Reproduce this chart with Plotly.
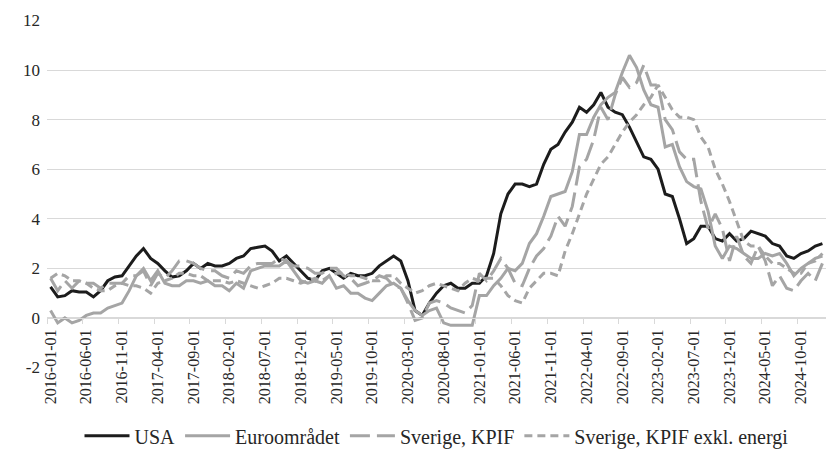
import plotly.graph_objects as go

# Categories: monthly observations Jan 2016 - Jan 2025
months = [f"{y}-{m:02d}-01" for y in range(2016, 2026) for m in range(1, 13)][:109]

tick_labels = ["2016-01-01", "2016-06-01", "2016-11-01", "2017-04-01", "2017-09-01",
               "2018-02-01", "2018-07-01", "2018-12-01", "2019-05-01", "2019-10-01",
               "2020-03-01", "2020-08-01", "2021-01-01", "2021-06-01", "2021-11-01",
               "2022-04-01", "2022-09-01", "2023-02-01", "2023-07-01", "2023-12-01",
               "2024-05-01", "2024-10-01"]

usa = [1.25, 0.85, 0.9, 1.1, 1.05, 1.05, 0.85, 1.1, 1.5, 1.65, 1.7, 2.1,
       2.5, 2.8, 2.4, 2.2, 1.9, 1.65, 1.7, 1.9, 2.2, 2.0, 2.2, 2.1,
       2.1, 2.2, 2.4, 2.5, 2.8, 2.85, 2.9, 2.7, 2.3, 2.5, 2.2, 1.9,
       1.6, 1.5, 1.9, 2.0, 1.8, 1.6, 1.8, 1.7, 1.7, 1.8, 2.1, 2.3,
       2.5, 2.3, 1.5, 0.3, 0.1, 0.6, 1.0, 1.3, 1.4, 1.2, 1.2, 1.4,
       1.4, 1.7, 2.6, 4.2, 5.0, 5.4, 5.4, 5.3, 5.4, 6.2, 6.8, 7.0,
       7.5, 7.9, 8.5, 8.3, 8.6, 9.1, 8.5, 8.3, 8.2, 7.7, 7.1, 6.5,
       6.4, 6.0, 5.0, 4.9, 4.0, 3.0, 3.2, 3.7, 3.7, 3.2, 3.1, 3.4,
       3.1, 3.2, 3.5, 3.4, 3.3, 3.0, 2.9, 2.5, 2.4, 2.6, 2.7, 2.9,
       3.0]

euro = [0.3, -0.2, 0.0, -0.2, -0.1, 0.1, 0.2, 0.2, 0.4, 0.5, 0.6, 1.1,
        1.7, 2.0, 1.5, 1.9, 1.4, 1.3, 1.3, 1.5, 1.5, 1.4, 1.5, 1.3,
        1.3, 1.1, 1.4, 1.2, 1.9, 2.0, 2.1, 2.1, 2.1, 2.3, 1.9, 1.5,
        1.4, 1.5, 1.4, 1.7, 1.2, 1.3, 1.0, 1.0, 0.8, 0.7, 1.0, 1.3,
        1.4, 1.2, 0.7, 0.3, 0.1, 0.3, 0.4, -0.2, -0.3, -0.3, -0.3, -0.3,
        0.9, 0.9, 1.3, 1.6, 2.0, 1.9, 2.2, 3.0, 3.4, 4.1, 4.9, 5.0,
        5.1, 5.9, 7.4, 7.4, 8.1, 8.6, 8.9, 9.1, 9.9, 10.6, 10.1, 9.2,
        8.6, 8.5, 6.9, 7.0, 6.1, 5.5, 5.3, 5.2, 4.3, 2.9, 2.4, 2.9,
        2.8, 2.6, 2.4, 2.4, 2.6, 2.5, 2.6, 2.2, 1.7, 2.0, 2.2, 2.4,
        2.5]

kpif = [1.6, 1.1, 1.5, 1.2, 1.5, 1.4, 1.4, 1.2, 1.4, 1.4, 1.4, 1.7,
        1.7, 1.9, 1.3, 1.8, 1.6, 1.9, 2.3, 2.3, 2.2, 2.0, 1.9, 1.9,
        1.7, 1.6, 1.9, 1.8, 2.1, 2.2, 2.2, 2.2, 2.4, 2.3, 2.1, 2.1,
        2.0, 1.8, 1.8, 2.0, 2.0, 1.7, 1.6, 1.3, 1.4, 1.5, 1.7, 1.6,
        1.3, 1.2, 0.6, -0.1, 0.0, 0.6, 0.7, 0.6, 0.4, 0.3, 0.2, 0.5,
        1.8, 1.5, 1.9, 2.4, 2.0, 1.4, 1.3, 2.0, 2.5, 2.8, 3.3, 4.1,
        3.7, 4.5, 6.1, 6.4, 7.2, 8.5, 8.0, 9.0, 9.7, 9.3, 9.5, 10.2,
        9.4, 9.4, 8.0, 7.6, 6.7, 6.4, 6.4, 4.7, 3.6, 4.2, 3.6, 2.3,
        3.3, 2.5, 2.2, 2.9, 2.3, 1.3, 1.7, 1.2, 1.1, 1.5, 1.8, 1.5,
        2.2]

kpif_xe = [1.6, 1.8, 1.7, 1.5, 1.5, 1.4, 1.2, 1.1, 1.1, 1.3, 1.4, 1.3,
           1.3, 1.2, 1.0, 1.4, 1.5, 1.6, 1.8, 1.8, 1.7, 1.7, 1.5, 1.5,
           1.5, 1.4, 1.5, 1.4, 1.3, 1.2, 1.3, 1.4, 1.6, 1.6, 1.5, 1.4,
           1.5, 1.6, 1.5, 1.7, 1.8, 1.8, 1.7, 1.7, 1.6, 1.5, 1.5, 1.7,
           1.7, 1.4, 1.2, 1.0, 1.1, 1.3, 1.4, 1.3, 1.2, 1.1, 1.4, 1.6,
           1.5, 1.6, 1.6, 1.3, 0.9, 0.7, 0.6, 1.2, 1.5, 1.8, 1.8, 1.7,
           2.7, 3.4, 4.2, 5.0, 5.6, 6.2, 6.5, 7.0, 7.5, 7.9, 8.2, 8.6,
           8.9, 9.4, 8.9, 8.4, 8.1, 8.1, 8.0, 7.3, 6.9, 6.0, 5.4, 4.7,
           3.9, 3.1, 2.9, 2.9, 2.5, 2.2, 2.2, 2.0, 1.8, 1.8, 2.2, 2.3,
           2.6]

y_ticks = [-2, 0, 2, 4, 6, 8, 10, 12]
y_tick_labels = ["-2", "0", "2", "4", "6", "8", "10", "12"]

FONT = "'Liberation Serif', 'Times New Roman', serif"
GRID = "#d9d9d9"
GREY = "#a5a5a5"
TEXT = "#262626"

xidx = list(range(len(months)))
tickvals = [months.index(t) for t in tick_labels]

fig = go.Figure()
fig.add_trace(go.Scatter(x=xidx, y=usa, mode="lines", name="USA",
                         line=dict(color="#1c1c1c", width=3)))
fig.add_trace(go.Scatter(x=xidx, y=euro, mode="lines", name="Euroområdet",
                         line=dict(color=GREY, width=3)))
fig.add_trace(go.Scatter(x=xidx, y=kpif, mode="lines", name="Sverige, KPIF",
                         line=dict(color=GREY, width=3, dash="20px,7px")))
fig.add_trace(go.Scatter(x=xidx, y=kpif_xe, mode="lines", name="Sverige, KPIF exkl. energi",
                         line=dict(color=GREY, width=3, dash="8px,5px")))

ylo, yhi = -2.02, 12.02
fig.update_layout(
    width=828, height=460,
    margin=dict(l=47, r=2, t=20, b=92),
    paper_bgcolor="white", plot_bgcolor="white",
    font=dict(family=FONT, size=17, color=TEXT),
    showlegend=True,
    legend=dict(orientation="h", x=0.5, xanchor="center", y=-0.195, yanchor="middle",
                font=dict(family=FONT, size=20, color=TEXT),
                itemwidth=45, bgcolor="rgba(0,0,0,0)"),
    xaxis=dict(
        range=[-0.5, len(months) - 0.5],
        anchor="free", position=(0 - ylo) / (yhi - ylo),
        tickmode="array", tickvals=tickvals, ticktext=tick_labels,
        tickangle=-90, ticks="outside", ticklen=4, tickcolor="rgba(0,0,0,0)",
        minor=dict(tickmode="linear", tick0=-0.5, dtick=5, ticks="outside",
                   ticklen=5, tickcolor=GRID, tickwidth=1.3, showgrid=False),
        showgrid=False, zeroline=False, showline=True, linecolor=GRID, linewidth=1.3,
        tickfont=dict(family=FONT, size=16, color=TEXT),
    ),
    yaxis=dict(
        range=[ylo, yhi], tickmode="array", tickvals=y_ticks, ticktext=y_tick_labels,
        showgrid=True, gridcolor=GRID, gridwidth=1.3, zeroline=False,
        showline=False, ticks="", ticklabelstandoff=6,
        tickfont=dict(family=FONT, size=17, color=TEXT),
    ),
)

fig.write_html("out.html",
               config={"displayModeBar": False},
               post_script="document.body.style.margin='0px';")
